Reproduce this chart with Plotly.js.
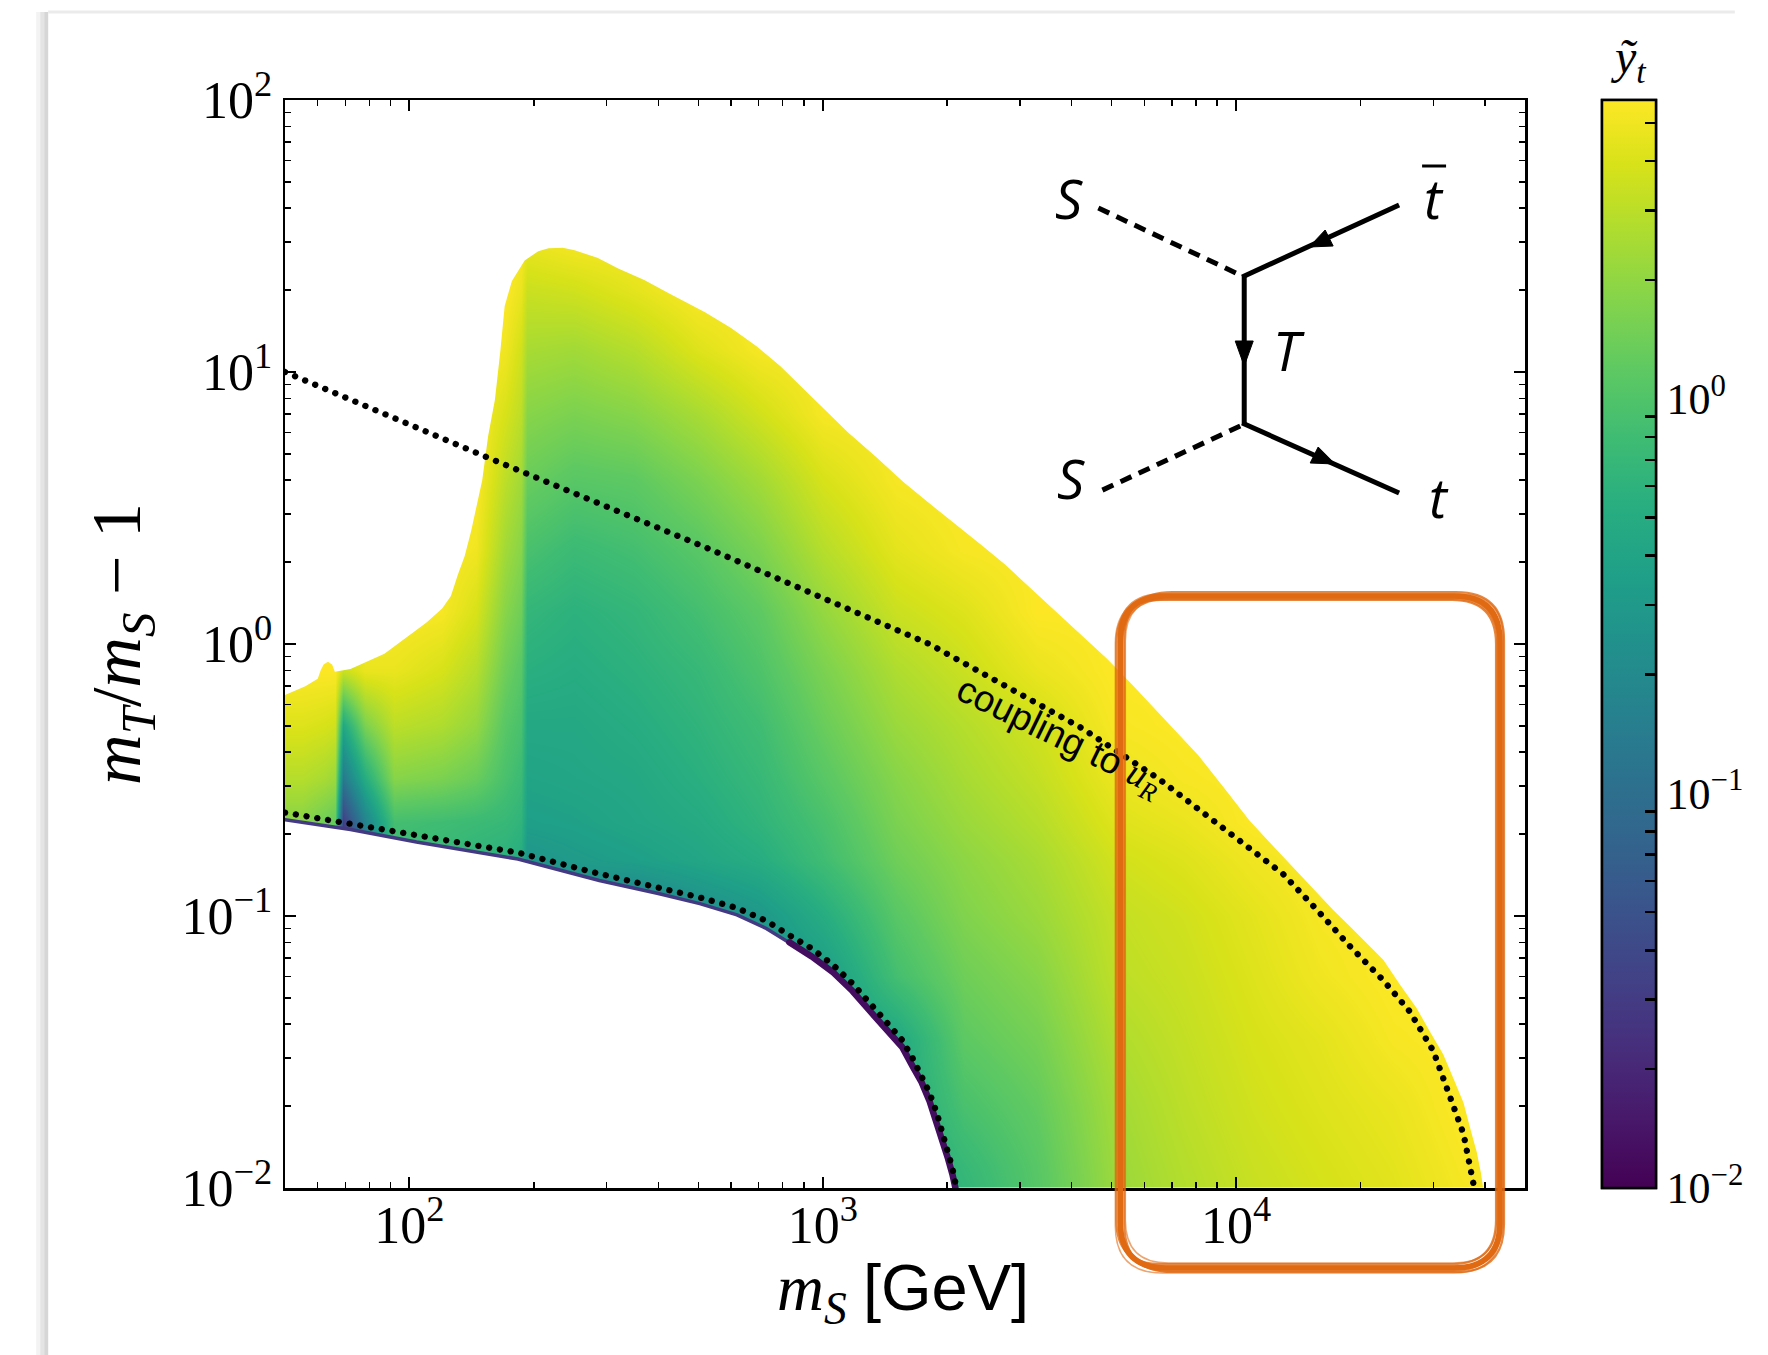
<!DOCTYPE html>
<html><head><meta charset="utf-8">
<script src="https://cdn.plot.ly/plotly-3.0.1.min.js"></script>
<style>
html,body{margin:0;padding:0;background:#fff;}
#chart{width:1768px;height:1355px;}
path.js-line{stroke-linecap:round !important;}
</style></head><body><div id="chart"></div>
<script>
// ---- data ----
// grid of dark-matter mass m_S [GeV] (columns) and mass splitting m_T/m_S - 1 (rows)
const mSGrid = [45, 55, 62, 66, 69, 78, 92, 120, 145, 170, 186, 192, 250, 350, 500, 700, 1000, 1500, 2200, 3300, 5000, 7500, 11000, 16000, 24000, 35000, 55000];
const ratioGrid = [0.007, 0.012, 0.02, 0.035, 0.06, 0.1, 0.16, 0.22, 0.32, 0.5, 0.8, 1.3, 2.2, 4, 7, 12, 20, 32, 50];
// coupling y_t per m_S column, listed from the lowest to the highest ratio
const ytColumns = [
  [1.82,1.82,1.82,1.82,1.82,1.82,1.82,1.82,2.84,4.16,5.71,5.71,5.71,5.71,5.71,5.71,5.71,5.71,5.71],
  [1.82,1.82,1.82,1.82,1.82,1.82,1.82,1.82,2.84,4.16,5.71,5.71,5.71,5.71,5.71,5.71,5.71,5.71,5.71],
  [1.41,1.41,1.41,1.41,1.41,1.41,1.41,1.41,2.50,3.90,5.71,5.71,5.71,5.71,5.71,5.71,5.71,5.71,5.71],
  [1.25,1.25,1.25,1.25,1.25,1.25,1.25,1.25,2.20,3.66,5.71,5.71,5.71,5.71,5.71,5.71,5.71,5.71,5.71],
  [0.021,0.021,0.021,0.021,0.021,0.021,0.021,0.031,0.13,0.45,3.44,5.71,5.71,5.71,5.71,5.71,5.71,5.71,5.71],
  [0.14,0.14,0.14,0.14,0.14,0.14,0.14,0.17,0.51,1.61,4.72,5.71,5.71,5.71,5.71,5.71,5.71,5.71,5.71],
  [0.75,0.75,0.75,0.75,0.75,0.75,0.75,0.85,1.82,3.03,4.72,5.71,5.71,5.71,5.71,5.71,5.71,5.71,5.71],
  [0.70,0.70,0.70,0.70,0.70,0.70,0.70,0.80,1.61,2.67,3.90,5.36,5.71,5.71,5.71,5.71,5.71,5.71,5.71],
  [0.62,0.62,0.62,0.62,0.62,0.62,0.62,0.75,1.33,2.07,2.84,3.90,5.03,5.71,5.71,5.71,5.71,5.71,5.71],
  [0.58,0.58,0.58,0.58,0.58,0.58,0.58,0.70,0.91,1.10,1.41,1.82,2.35,3.03,3.90,5.03,5.71,5.71,5.71],
  [0.51,0.51,0.51,0.51,0.51,0.51,0.51,0.62,0.75,0.91,1.10,1.41,1.82,2.35,3.03,3.66,4.72,5.71,5.71],
  [0.24,0.24,0.24,0.24,0.24,0.24,0.27,0.35,0.40,0.45,0.55,0.66,0.91,1.33,1.82,2.50,3.44,5.03,5.71],
  [0.17,0.17,0.17,0.17,0.17,0.17,0.31,0.37,0.42,0.45,0.51,0.58,0.75,1.10,1.61,2.35,3.66,5.71,5.71],
  [0.14,0.14,0.14,0.14,0.14,0.14,0.35,0.42,0.45,0.51,0.58,0.66,0.85,1.17,1.82,2.84,4.43,5.71,5.71],
  [0.17,0.17,0.17,0.17,0.17,0.21,0.42,0.48,0.55,0.62,0.70,0.85,1.10,1.61,2.50,4.16,5.71,5.71,5.71],
  [0.24,0.24,0.24,0.24,0.24,0.29,0.51,0.62,0.70,0.80,0.97,1.17,1.61,2.35,3.66,5.36,5.71,5.71,5.71],
  [0.33,0.33,0.33,0.33,0.33,0.51,0.80,0.91,1.10,1.33,1.61,2.07,2.84,3.90,5.36,5.71,5.71,5.71,5.71],
  [0.45,0.45,0.45,0.45,0.85,1.10,1.41,1.61,1.82,2.20,2.67,3.44,4.43,5.36,5.71,5.71,5.71,5.71,5.71],
  [0.58,0.70,0.91,1.17,1.41,1.71,1.94,2.20,2.50,2.84,3.44,4.16,5.36,5.71,5.71,5.71,5.71,5.71,5.71],
  [1.03,1.10,1.25,1.51,1.82,2.20,2.50,2.84,3.23,3.66,4.72,5.71,5.71,5.71,5.71,5.71,5.71,5.71,5.71],
  [2.07,2.20,2.35,2.67,3.03,3.23,3.66,4.16,4.72,5.36,5.71,5.71,5.71,5.71,5.71,5.71,5.71,5.71,5.71],
  [2.67,2.84,3.03,3.23,3.44,3.66,4.16,4.72,5.36,5.71,5.71,5.71,5.71,5.71,5.71,5.71,5.71,5.71,5.71],
  [3.23,3.44,3.66,3.90,4.16,4.43,5.03,5.71,5.71,5.71,5.71,5.71,5.71,5.71,5.71,5.71,5.71,5.71,5.71],
  [3.66,3.90,4.16,4.43,5.03,5.36,5.71,5.71,5.71,5.71,5.71,5.71,5.71,5.71,5.71,5.71,5.71,5.71,5.71],
  [4.16,4.43,4.72,5.36,5.71,5.71,5.71,5.71,5.71,5.71,5.71,5.71,5.71,5.71,5.71,5.71,5.71,5.71,5.71],
  [5.03,5.36,5.71,5.71,5.71,5.71,5.71,5.71,5.71,5.71,5.71,5.71,5.71,5.71,5.71,5.71,5.71,5.71,5.71],
  [5.71,5.71,5.71,5.71,5.71,5.71,5.71,5.71,5.71,5.71,5.71,5.71,5.71,5.71,5.71,5.71,5.71,5.71,5.71]
];
// upper edge of the viable region
const upperEdgeMS = [40, 50, 56, 60, 61, 62, 63.5, 65, 66, 72, 87, 96, 110, 120, 126, 131, 136, 141, 146, 150, 155, 161, 166, 170, 177, 190, 205, 217, 235, 251, 285, 320, 370, 423, 519, 600, 693, 790, 889, 1010, 1150, 1340, 1567, 1820, 2100, 2420, 2770, 3200, 3600, 4200, 4880, 5600, 6500, 7300, 8100, 9500, 10760, 12000, 12970, 14200, 15630, 17200, 18840, 20700, 22700, 25000, 27300, 29500, 31700, 33700, 35500, 37000, 38200, 39100, 39600, 40000];
const upperEdgeRatio = [0.6, 0.65, 0.70, 0.745, 0.8, 0.84, 0.86, 0.84, 0.79, 0.81, 0.92, 1.03, 1.2, 1.35, 1.5, 1.8, 2.1, 2.6, 3.3, 4.0, 5.8, 7.9, 12, 17.5, 21.6, 25.7, 27.8, 28.5, 28.6, 28, 26.3, 24, 21.8, 19.5, 16.6, 14.5, 12.4, 10.5, 8.8, 7.3, 6.0, 4.9, 3.94, 3.27, 2.75, 2.31, 1.95, 1.59, 1.35, 1.09, 0.88, 0.71, 0.556, 0.46, 0.39, 0.287, 0.225, 0.188, 0.166, 0.143, 0.122, 0.105, 0.0917, 0.0793, 0.069, 0.0555, 0.046, 0.0374, 0.031, 0.0249, 0.0206, 0.0162, 0.0136, 0.0114, 0.0100, 0.008];
// lower edge of the viable region
const lowerEdgeMS = [40, 50, 72, 104, 183, 288, 400, 504, 620, 730, 830, 940, 1060, 1180, 1313, 1440, 1556, 1650, 1734, 1810, 1885, 1950, 2010, 2060, 2100, 2130];
const lowerEdgeRatio = [0.232, 0.226, 0.208, 0.187, 0.162, 0.135, 0.121, 0.111, 0.101, 0.090, 0.080, 0.071, 0.062, 0.053, 0.044, 0.038, 0.033, 0.028, 0.0245, 0.021, 0.0175, 0.0148, 0.0128, 0.0112, 0.0098, 0.008];
// dotted curve "coupling to u_R"
const uRCurveMS = [50, 152, 519, 955, 1300, 1810, 2770, 4240, 6490, 9930, 12970, 15630, 18840, 22700, 26300, 30000, 32900, 35500, 37500];
const uRCurveRatio = [10, 4.9, 2.27, 1.52, 1.24, 1.0, 0.70, 0.49, 0.32, 0.197, 0.143, 0.106, 0.0775, 0.058, 0.0446, 0.0319, 0.022, 0.0158, 0.0104];
// dotted curve along the lower edge
const lowDotMS = [50, 104, 183, 288, 400, 504, 620, 730, 830, 940, 1060, 1180, 1313, 1440, 1556, 1650, 1734, 1810, 1885, 1950, 2014, 2060, 2095];
const lowDotRatio = [0.24, 0.198, 0.171, 0.143, 0.128, 0.117, 0.107, 0.096, 0.085, 0.076, 0.066, 0.0565, 0.047, 0.040, 0.035, 0.030, 0.026, 0.0225, 0.019, 0.016, 0.0137, 0.0118, 0.0104];
// axis ticks
const xMajor = [100, 1000, 10000];
const xMajorText = ['10<sup>2</sup>', '10<sup>3</sup>', '10<sup>4</sup>'];
const xMinor = [60,70,80,90,200,300,400,500,600,700,800,900,2000,3000,4000,5000,6000,7000,8000,9000,20000,30000,40000];
const yMajor = [0.01, 0.1, 1, 10, 100];
const yMajorText = ['10<sup>\u22122</sup>', '10<sup>\u22121</sup>', '10<sup>0</sup>', '10<sup>1</sup>', '10<sup>2</sup>'];
const yMinor = [0.02,0.03,0.04,0.05,0.06,0.07,0.08,0.09,0.2,0.3,0.4,0.5,0.6,0.7,0.8,0.9,2,3,4,5,6,7,8,9,20,30,40,50,60,70,80,90];
const cbMajor = [0.01, 0.1, 1];
const cbMajorText = ['10<sup>\u22122</sup>', '10<sup>\u22121</sup>', '10<sup>0</sup>'];
const cbMinor = [0.02,0.03,0.04,0.05,0.06,0.07,0.08,0.09,0.2,0.3,0.4,0.5,0.6,0.7,0.8,0.9,2,3,4,5];
const ytMin = 0.01, ytMax = 5.71;

// ---- layout helpers (pixel -> paper) ----
const L = 285, R = 1526, T = 100, B = 1188;
const px = X => (X - L) / (R - L);
const py = Y => (B - Y) / (B - T);

const zLog = ratioGrid.map((r, i) => ytColumns.map(col => Math.log10(col[i])));
const cbBase = {thickness:54, thicknessmode:'pixels', len:1, lenmode:'fraction', y:0.5, yanchor:'middle', ypad:0,
  x: px(1602), xanchor:'left', xpad:0, outlinewidth:2.5, outlinecolor:'black',
  ticks:'inside', ticklen:12, tickwidth:2.5, tickcolor:'black', tickmode:'array',
  tickfont:{family:'Liberation Serif', size:44, color:'black'}, title:{text:''}};

const traces = [
  {type:'heatmap', x: mSGrid, y: ratioGrid, z: zLog, zsmooth:'best',
   colorscale:'Viridis', zmin: Math.log10(ytMin), zmax: Math.log10(ytMax), hoverinfo:'skip',
   colorbar: Object.assign({}, cbBase, {tickvals: cbMajor.map(v => Math.log10(v)), ticktext: cbMajorText})},
  // second copy of the colour bar carrying the unlabelled minor ticks (its heatmap lies outside the axes)
  {type:'heatmap', x:[1, 2], y:[0.001, 0.002], z:[[Math.log10(ytMin), Math.log10(ytMax)],[Math.log10(ytMin), Math.log10(ytMax)]],
   colorscale:'Viridis', zmin: Math.log10(ytMin), zmax: Math.log10(ytMax), hoverinfo:'skip',
   colorbar: Object.assign({}, cbBase, {tickvals: cbMinor.map(v => Math.log10(v)), showticklabels:false})},
  {type:'scatter', mode:'lines', x: upperEdgeMS.concat([60000, 60000, 40]), y: upperEdgeRatio.concat([0.008, 200, 200]),
   fill:'toself', fillcolor:'white', line:{width:0, color:'white'}, hoverinfo:'skip', showlegend:false},
  {type:'scatter', mode:'lines', x: lowerEdgeMS.concat([2130, 40]), y: lowerEdgeRatio.concat([0.005, 0.005]),
   fill:'toself', fillcolor:'white', line:{width:0, color:'white'}, hoverinfo:'skip', showlegend:false},
  {type:'scatter', mode:'lines', x: lowerEdgeMS.slice(1, 12), y: lowerEdgeRatio.slice(1, 12),
   line:{color:'#443a83', width:3.5}, hoverinfo:'skip', showlegend:false},
  {type:'scatter', mode:'lines', x: lowerEdgeMS.slice(10, 25), y: lowerEdgeRatio.slice(10, 25),
   line:{color:'#440d5f', width:6.5}, hoverinfo:'skip', showlegend:false},
  {type:'scatter', mode:'lines', x: uRCurveMS, y: uRCurveRatio,
   line:{color:'black', width:6.3, dash:'0.1px,10.8px'}, hoverinfo:'skip', showlegend:false},
  {type:'scatter', mode:'lines', x: lowDotMS, y: lowDotRatio,
   line:{color:'black', width:6.3, dash:'0.1px,10.8px'}, hoverinfo:'skip', showlegend:false}
];

// ---- Feynman diagram and annotations ----
const shapes = [];
function seg(x0,y0,x1,y1,w,dash){ shapes.push({type:'line', xref:'paper', yref:'paper', x0:px(x0), y0:py(y0), x1:px(x1), y1:py(y1), line:{color:'black', width:w, dash:dash||'solid'}, layer:'above'}); }
function tri(p){ const d = 'M' + p.map(q => px(q[0]) + ',' + py(q[1])).join('L') + 'Z';
  shapes.push({type:'path', xref:'paper', yref:'paper', path:d, fillcolor:'black', line:{color:'black', width:1}, layer:'above'}); }
seg(1099,208,1241,275,5,'12px,8px');
seg(1241,426,1099,492,5,'12px,8px');
seg(1243,277,1400,205,5);
seg(1245,275,1245,425,5);
seg(1243,423,1400,493,5);
tri([[1310,247],[1334,246],[1326,230]]);
tri([[1245,366],[1236,341],[1254,341]]);
tri([[1336,464],[1311,463],[1319,447]]);
seg(1423,166,1447,166,3);

function rrect(x0,y0,x1,y1,r){
  const P = (x,y) => px(x) + ',' + py(y);
  return 'M' + P(x0+r,y0) + 'L' + P(x1-r,y0) + 'Q' + P(x1,y0) + ' ' + P(x1,y0+r) +
    'L' + P(x1,y1-r) + 'Q' + P(x1,y1) + ' ' + P(x1-r,y1) + 'L' + P(x0+r,y1) + 'Q' + P(x0,y1) + ' ' + P(x0,y1-r) +
    'L' + P(x0,y0+r) + 'Q' + P(x0,y0) + ' ' + P(x0+r,y0) + 'Z';
}
const orange = '#e06a12';
[[1121,596,1501,1268,46,5.5,1],[1117,600,1497,1264,44,2.2,0.8],[1125,592,1505,1272,48,2.2,0.8],
 [1119,594,1504,1266,45,1.8,0.7],[1123,599,1499,1271,46,1.8,0.7],[1116,597,1502,1273,47,1.5,0.6],[1126,598,1498,1263,43,1.5,0.6]]
  .forEach(b => shapes.push({type:'path', xref:'paper', yref:'paper', path: rrect(b[0],b[1],b[2],b[3],b[4]),
    line:{color:orange, width:b[5]}, opacity:b[6], layer:'above'}));
// sheet edge shading
[[36,40,'#f3f3f3'],[40,44,'#e4e4e4'],[44,48,'#d6d6d6']].forEach(s => shapes.push({type:'rect', xref:'paper', yref:'paper',
  x0:px(s[0]), x1:px(s[1]), y0:py(1355), y1:py(12), fillcolor:s[2], line:{width:0}, layer:'below'}));
shapes.push({type:'line', xref:'paper', yref:'paper', x0:px(48), x1:px(1736), y0:py(12), y1:py(12), line:{color:'#ebebeb', width:3}, layer:'below'});

function lab(x,y,t,size,fam){ return {xref:'paper', yref:'paper', x:px(x), y:py(y), text:t, showarrow:false, xanchor:'center', yanchor:'middle',
  font:{family:fam||'Open Sans', size:size, color:'black'}}; }
const annotations = [
  lab(1070,198,'<i>S</i>',54), lab(1072,478,'<i>S</i>',54), lab(1290,350,'<i>T</i>',54),
  lab(1435,198,'<i>t</i>',54), lab(1440,497,'<i>t</i>',54),
  lab(1629,60,'<i>\u1EF9</i><sub><i>t</i></sub>',48,'Liberation Serif'),
  // x-axis title (placed as an annotation so it can sit as close to the tick labels as in the reference)
  lab(903,1292,'<i>m</i><sub><i>S</i></sub> <span style="font-family:Liberation Sans">[GeV]</span>',65,'Liberation Serif'),
  Object.assign(lab(1060,738,'coupling to <span style="font-family:Liberation Serif"><i>u</i><sub><i>R</i></sub></span>',37,'Liberation Sans'), {textangle:26})
];

const axisCommon = {type:'log', showline:true, linewidth:2.5, linecolor:'black', mirror:'allticks',
  ticks:'inside', ticklen:11, tickwidth:2, tickcolor:'black', tickmode:'array', showgrid:false, zeroline:false,
  tickfont:{family:'Liberation Serif', size:52, color:'black'}};

const layout = {
  width:1768, height:1355, margin:{l:L, r:1768-R, t:T, b:1355-B},
  paper_bgcolor:'white', plot_bgcolor:'white', showlegend:false,
  xaxis: Object.assign({}, axisCommon, {range:[Math.log10(50), Math.log10(50000)], tickvals:xMajor, ticktext:xMajorText,
    ticklabelstandoff:-10,
    minor:{tickmode:'array', tickvals:xMinor, ticks:'inside', ticklen:6, tickwidth:1.5, tickcolor:'black', showgrid:false}}),
  yaxis: Object.assign({}, axisCommon, {range:[-2, 2], tickvals:yMajor, ticktext:yMajorText,
    minor:{tickmode:'array', tickvals:yMinor, ticks:'inside', ticklen:6, tickwidth:1.5, tickcolor:'black', showgrid:false},
    title:{text:'<i>m</i><sub><i>T</i></sub>/<i>m</i><sub><i>S</i></sub> \u2212 1', standoff:18,
      font:{family:'Liberation Serif', size:70, color:'black'}}}),
  shapes: shapes, annotations: annotations
};

Plotly.newPlot('chart', traces, layout, {displayModeBar:false, staticPlot:true});
</script></body></html>
